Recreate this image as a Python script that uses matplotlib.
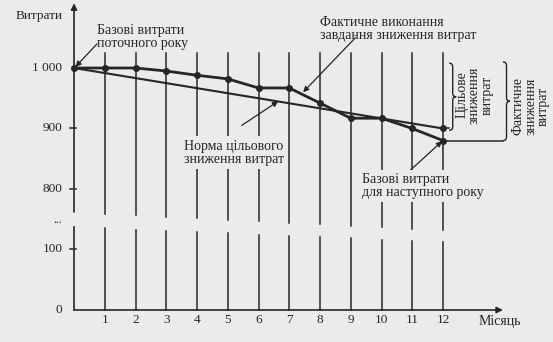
import matplotlib
matplotlib.use('Agg')
import matplotlib.pyplot as plt
from matplotlib.path import Path
from matplotlib.patches import PathPatch

#
# DATA
#
months = [0, 1, 2, 3, 4, 5, 6, 7, 8, 9, 10, 11, 12]
actual = [1000, 1000, 1000, 995, 988, 982, 967, 967, 942, 917, 917, 900, 880]
norm_months = [0, 12]
norm = [1000, 900]
ytick_vals = [0, 100, 800, 900, 1000]
ytick_labels = ['0', '100', '800', '900', '1 000']
month_labels = [str(m) for m in months[1:]]

BG = '#ebebeb'
INK = '#262626'
FONT = 'Liberation Serif'
FS = 9.5   # ticks
FA = 10    # annotations


def ty(v):
    # broken y axis: 100..800 squeezed out
    return v if v <= 100 else v - 600


fig = plt.figure(figsize=(5.53, 3.42), dpi=100)
fig.patch.set_facecolor(BG)
ax = fig.add_axes([0.0, 0.0, 1.0, 1.0])
ax.set_facecolor(BG)
ax.set_xlim(-2.407, 15.577)
ax.set_ylim(-52.9, 512.4)
ax.axis('off')

# vertical month lines, each broken between 100 and 800
for m in months:
    lo = 137 - 25 * m / 12.0
    hi = 162 - 30 * m / 12.0
    if m == 0:
        ax.plot([0, 0], [0, lo], color=INK, lw=1.2, zorder=2)
        ax.annotate('', xy=(0, 507), xytext=(0, hi),
                    arrowprops=dict(arrowstyle='-|>', color=INK, lw=1.2,
                                    mutation_scale=9, shrinkA=0, shrinkB=0))
    else:
        ax.plot([m, m], [0, lo], color=INK, lw=1.1, zorder=1)
        ax.plot([m, m], [hi, 425], color=INK, lw=1.1, zorder=1)

# x axis
ax.annotate('', xy=(13.95, 0), xytext=(0, 0),
            arrowprops=dict(arrowstyle='-|>', color=INK, lw=1.2,
                            mutation_scale=9, shrinkA=0, shrinkB=0))

# y ticks
for v, lab in zip(ytick_vals, ytick_labels):
    if v in (100, 800, 900):
        ax.plot([-0.12, 0.08], [ty(v), ty(v)], color=INK, lw=1.1)
    ax.text(-0.38, ty(v), lab, ha='right', va='center', fontsize=FS,
            family=FONT, color=INK)
ax.text(-0.4, 149, '...', ha='right', va='center', fontsize=FS - 1,
        family=FONT, color=INK)

for m, lab in zip(months[1:], month_labels):
    ax.text(m, -16.5, lab, ha='center', va='center', fontsize=FS,
            family=FONT, color=INK)
ax.text(13.15, -19, 'Місяць', ha='left', va='center', fontsize=FA,
        family=FONT, color=INK)
ax.text(-0.36, 486, 'Витрати', ha='right', va='center', fontsize=FS,
        family=FONT, color=INK)

# series
ax.plot(norm_months, [ty(v) for v in norm], color=INK, lw=1.5, zorder=3)
ax.plot(months, [ty(v) for v in actual], color=INK, lw=2.0, zorder=3)
ax.plot(months, [ty(v) for v in actual], 'o', color=INK, ms=4, zorder=4)
ax.plot(norm_months[-1:], [ty(norm[-1])], 'o', color=INK, ms=4, zorder=4)

# reference lines to the braces
ax.plot([months[-1], 13.95], [ty(actual[-1])] * 2, color=INK, lw=1.1)
ax.plot([months[-1], 12.2], [ty(norm[-1])] * 2, color=INK, lw=1.1)


def brace(x0, y_top, y_bot, w=0.23):
    ym = (y_top + y_bot) / 2.0
    xm = x0 + w / 2.0
    c = 6.0
    verts = [(x0, y_top), (xm, y_top), (xm, y_top - c),
             (xm, ym + c), (xm, ym), (x0 + w, ym),
             (xm, ym), (xm, ym - c),
             (xm, y_bot + c), (xm, y_bot), (x0, y_bot)]
    codes = [Path.MOVETO, Path.CURVE3, Path.CURVE3,
             Path.LINETO, Path.CURVE3, Path.CURVE3,
             Path.CURVE3, Path.CURVE3,
             Path.LINETO, Path.CURVE3, Path.CURVE3]
    ax.add_patch(PathPatch(Path(verts, codes), fill=False, edgecolor=INK,
                           lw=1.0))


brace(12.2, ty(norm[0]) + 8, ty(norm[-1]) - 3)
brace(13.95, ty(actual[0]) + 10, ty(actual[-1]))

ax.text(13.02, (310 - 95) / 0.605, 'Цільове\nзниження\nвитрат', rotation=90,
        ha='center', va='center', multialignment='center', fontsize=FA,
        family=FONT, color=INK, linespacing=0.95)
ax.text(14.85, (310 - 106) / 0.605, 'Фактичне\nзниження\nвитрат', rotation=90,
        ha='center', va='center', multialignment='center', fontsize=FA,
        family=FONT, color=INK, linespacing=0.95)

# annotations
arrow = dict(arrowstyle='-|>', color=INK, lw=0.9, mutation_scale=8,
             shrinkA=0, shrinkB=0)
ax.text(0.75, 452, 'Базові витрати\nпоточного року', ha='left', va='center',
        fontsize=FA, family=FONT, color=INK, linespacing=1.0)
ax.annotate('', xy=(0.05, ty(1000) + 2), xytext=(0.75, 440), arrowprops=arrow)

ax.text(8.0, 465, 'Фактичне виконання\nзавдання зниження витрат', ha='left',
        va='center', fontsize=FA, family=FONT, color=INK, linespacing=1.0)
ax.annotate('', xy=(7.45, 360), xytext=(9.15, 450), arrowprops=arrow)

ax.text(5.2, 260, 'Норма цільового\nзниження витрат', ha='center',
        va='center', fontsize=FA, family=FONT, color=INK, linespacing=1.0,
        bbox=dict(facecolor=BG, edgecolor='none', pad=2.5), zorder=5)
ax.annotate('', xy=(6.64, 345), xytext=(5.45, 305), arrowprops=arrow)

ax.text(9.35, 205, 'Базові витрати\nдля наступного року', ha='left',
        va='center', fontsize=FA, family=FONT, color=INK, linespacing=1.0,
        bbox=dict(facecolor=BG, edgecolor='none', pad=2.5), zorder=5)
ax.annotate('', xy=(11.97, ty(actual[-1]) - 1), xytext=(10.7, 220),
            arrowprops=arrow)

fig.savefig('out.png', dpi=100, facecolor=BG)
